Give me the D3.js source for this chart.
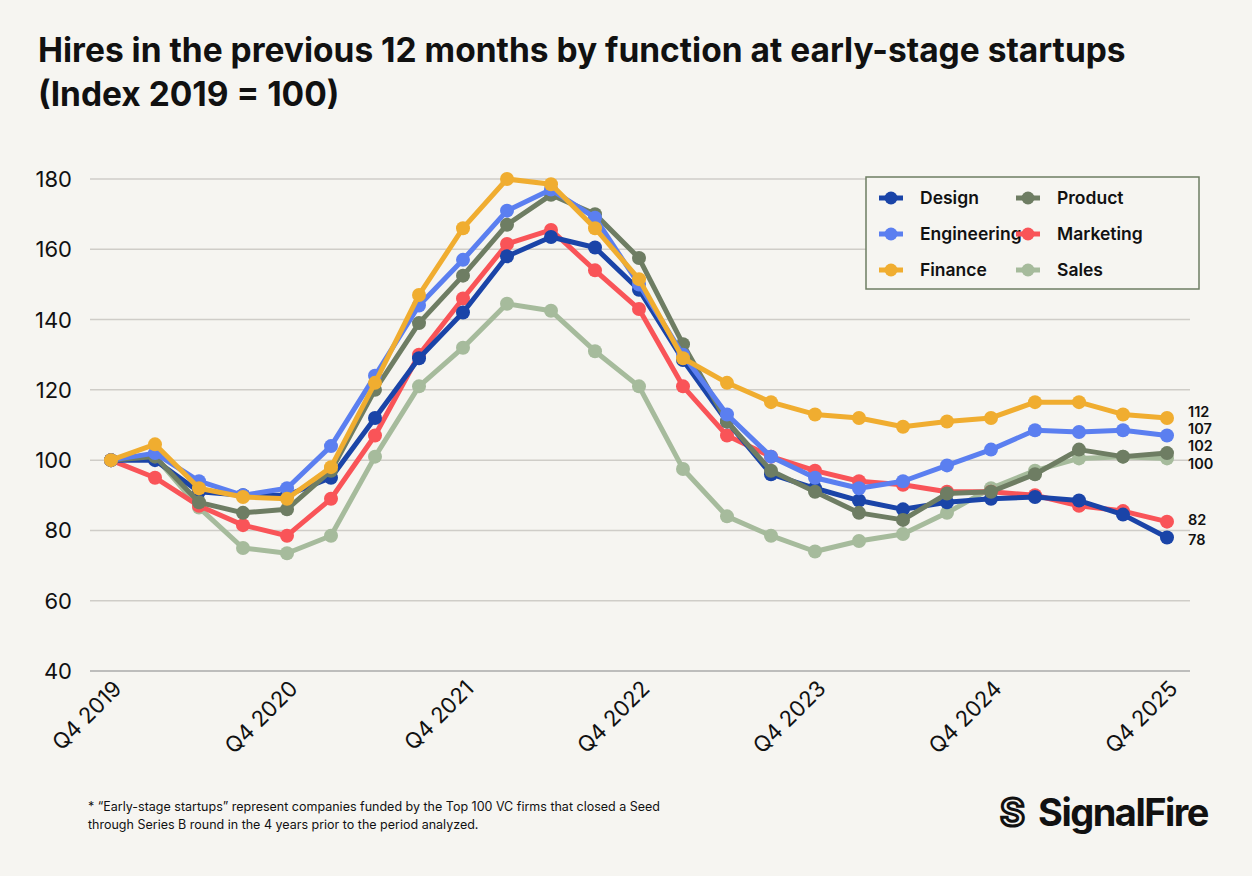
<!DOCTYPE html>
<html><head><meta charset="utf-8">
<script src="https://cdn.jsdelivr.net/npm/d3@7"></script>
<style>body{margin:0;background:#f6f5f1;font-family:Inter,"Noto Sans",sans-serif;}</style>
</head><body><div class="chart"></div>
<script>
// dati
var quarters = d3.range(25);
var tickLabels = ["Q4 2019","Q4 2020","Q4 2021","Q4 2022","Q4 2023","Q4 2024","Q4 2025"];
var design = [100,100,91,90,90,95,112,129,142,158,163.5,160.5,148.5,128.5,111,96,92,88.5,86,88,89,89.5,88.5,84.5,78];
var engineering = [100,102,94,90,92,104,124,144,157,171,177,169,150,130,113,101,95,92,94,98.5,103,108.5,108,108.5,107];
var finance = [100,104.5,92,89.5,89,98,122,147,166,180,178.5,166,151.5,129,122,116.5,113,112,109.5,111,112,116.5,116.5,113,112];
var product = [100,101,88,85,86,97,120,139,152.5,167,175.5,170,157.5,133,111,97,91,85,83,90.5,91,96,103,101,102];
var marketing = [100,95,87,81.5,78.5,89,107,130,146,161.5,165.5,154,143,121,107,101,97,94,93,91,91,90,87,85.5,82.5];
var sales = [100,101,86.5,75,73.5,78.5,101,121,132,144.5,142.5,131,121,97.5,84,78.5,74,77,79,85,92,97,100.5,101,100.5];
var endLabels = [["112",113.6],["107",108.8],["102",103.9],["100",98.9],["82",83],["78",77.2]];

var serie = [
  {nome:"Sales", val:sales, col:"#a6bb9c"},
  {nome:"Marketing", val:marketing, col:"#f95458"},
  {nome:"Design", val:design, col:"#1a44a8"},
  {nome:"Product", val:product, col:"#6e7d63"},
  {nome:"Engineering", val:engineering, col:"#5b7ff0"},
  {nome:"Finance", val:finance, col:"#f0ad30"}
];
var legenda = ["Design","Product","Engineering","Marketing","Finance","Sales"];

var w = 1252, h = 876;
var svg = d3.select(".chart").append("svg").attr("width", w).attr("height", h);
svg.append("rect").attr("width", w).attr("height", h).attr("fill", "#f6f5f1");

svg.append("text").attr("x", 38).attr("y", 62).attr("font-size", 33.5).attr("font-weight", 700).attr("fill", "#111")
  .text("Hires in the previous 12 months by function at early-stage startups");
svg.append("text").attr("x", 38).attr("y", 106).attr("font-size", 33.5).attr("font-weight", 700).attr("fill", "#111")
  .text("(Index 2019 = 100)");

var x = d3.scaleLinear().domain([0, 24]).range([111, 1167]);
var y = d3.scaleLinear().domain([40, 180]).range([671, 179]);

// griglia
svg.append("g").selectAll("line").data(d3.range(40, 181, 20)).enter().append("line")
  .attr("x1", 90).attr("x2", 1190).attr("y1", y).attr("y2", y)
  .attr("stroke", d => d == 40 ? "#aaa" : "#cfcdc8").attr("stroke-width", 1.5);

svg.append("g").selectAll("text").data(d3.range(40, 181, 20)).enter().append("text")
  .attr("x", 72).attr("y", d => y(d) + 8).attr("text-anchor", "end")
  .attr("font-size", 22).attr("fill", "#111").text(d => d);

svg.append("g").selectAll("text").data(tickLabels).enter().append("text")
  .attr("transform", (d, i) => "translate(" + (x(i * 4) + 12) + ",690) rotate(-45)")
  .attr("text-anchor", "end").attr("font-size", 22).attr("fill", "#111").text(d => d);

var linea = d3.line().x((d, i) => x(i)).y(d => y(d));
serie.forEach(function (s) {
  var g = svg.append("g");
  g.append("path").attr("d", linea(s.val)).attr("fill", "none")
    .attr("stroke", s.col).attr("stroke-width", 5).attr("stroke-linejoin", "round");
  g.selectAll("circle").data(s.val).enter().append("circle")
    .attr("cx", (d, i) => x(i)).attr("cy", d => y(d)).attr("r", 7).attr("fill", s.col);
});

svg.append("g").selectAll("text").data(endLabels).enter().append("text")
  .attr("x", 1188).attr("y", d => y(d[1]) + 5).attr("font-size", 14.5).attr("font-weight", 600)
  .attr("fill", "#111").text(d => d[0]);

// legenda
var leg = svg.append("g");
leg.append("rect").attr("x", 866).attr("y", 177).attr("width", 333).attr("height", 112)
  .attr("fill", "#f6f5f1").attr("stroke", "#6e7d63").attr("stroke-width", 1.5);
legenda.forEach(function (n, i) {
  var s = serie.find(d => d.nome == n);
  var lx = 879 + (i % 2) * 137, ly = 198 + Math.floor(i / 2) * 36;
  leg.append("line").attr("x1", lx).attr("x2", lx + 24).attr("y1", ly).attr("y2", ly)
    .attr("stroke", s.col).attr("stroke-width", 5);
  leg.append("circle").attr("cx", lx + 12).attr("cy", ly).attr("r", 6.5).attr("fill", s.col);
  leg.append("text").attr("x", lx + 41).attr("y", ly + 6).attr("font-size", 17.5).attr("font-weight", 600)
    .attr("fill", "#111").text(n);
});

svg.append("text").attr("x", 88).attr("y", 811).attr("font-size", 12.5).attr("fill", "#111")
  .text("* \u201cEarly-stage startups\u201d represent companies funded by the Top 100 VC firms that closed a Seed");
svg.append("text").attr("x", 88).attr("y", 829).attr("font-size", 12.5).attr("fill", "#111")
  .text("through Series B round in the 4 years prior to the period analyzed.");

svg.append("text").attr("x", 1208).attr("y", 826).attr("text-anchor", "end").attr("font-size", 38)
  .attr("font-weight", 700).attr("letter-spacing", -1.5).attr("fill", "#111").text("SignalFire");
svg.append("text").attr("x", 1000).attr("y", 826).attr("font-size", 38).attr("font-weight", 700)
  .attr("fill", "none").attr("stroke", "#111").attr("stroke-width", 3).text("S");
</script></body></html>
